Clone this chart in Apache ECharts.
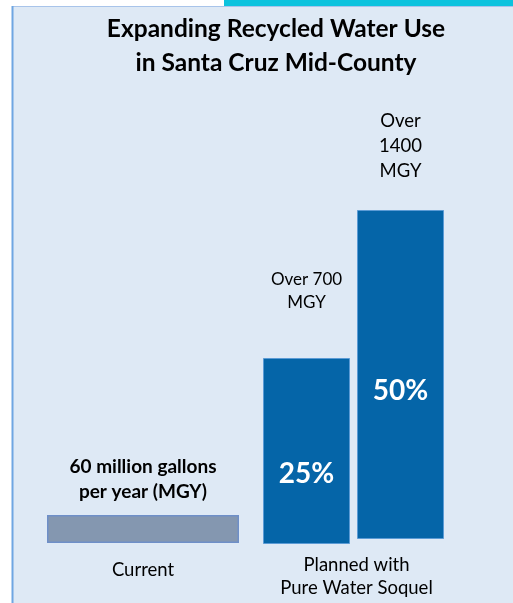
<!DOCTYPE html>
<html><head><meta charset="utf-8">
<script src="https://cdn.jsdelivr.net/npm/echarts@6/dist/echarts.min.js"></script>
<style>html,body{margin:0;padding:0;background:#fff}#c{width:513px;height:603px}</style>
</head><body><div id="c"></div>
<script>
const titleLines = ['Expanding Recycled Water Use', 'in Santa Cruz Mid-County'];
const currentCategory = ['Current'];
const plannedCategory = ['Planned with\nPure Water Soquel'];
const currentValue = [60];
const planned25Value = [700];
const planned50Value = [1400];
const currentLabel = '60 million gallons\nper year (MGY)';
const planned25Label = 'Over 700\nMGY';
const planned50Label = 'Over\n1400\nMGY';
const planned25Share = '25%';
const planned50Share = '50%';

const FONT = 'Lato, "Open Sans", sans-serif';
const chart = echarts.init(document.getElementById('c'), null, {renderer: 'canvas'});

function grid(left, width, top, bottom) { return {left, width, top, bottom, containLabel: false}; }
function xa(gi, data, show, margin) {
  return {type: 'category', gridIndex: gi, data, axisLine: {show: false}, axisTick: {show: false},
    axisLabel: {show, color: '#000', fontFamily: FONT, fontSize: 18.5, margin, lineHeight: 23}};
}
function ya(gi, max) {
  return {type: 'value', gridIndex: gi, min: 0, max, show: false, splitLine: {show: false}};
}

chart.setOption({
  backgroundColor: '#ffffff',
  animation: false,
  graphic: [
    {type: 'rect', shape: {x: 12, y: 6, width: 501, height: 597}, style: {fill: '#dee9f5'}, z: -10},
    {type: 'rect', shape: {x: 224, y: 0, width: 289, height: 6}, style: {fill: '#0cc3de'}, z: -9},
    {type: 'line', shape: {x1: 12, y1: 6.5, x2: 513, y2: 6.5}, style: {stroke: '#a8c4ea', lineWidth: 1}, z: -8},
    {type: 'line', shape: {x1: 12.5, y1: 6, x2: 12.5, y2: 603}, style: {stroke: '#6fa6e2', lineWidth: 2}, z: -8}
  ],
  title: {
    text: titleLines.join('\n'), left: 271, top: 7, textAlign: 'center',
    textStyle: {fontFamily: FONT, fontWeight: 'bold', fontSize: 24.5, lineHeight: 34, color: '#000'}
  },
  grid: [grid(47, 192, 515, 60), grid(263, 87, 358, 59), grid(357, 87, 210, 64), grid(266, 181, 358, 59)],
  xAxis: [xa(0, currentCategory, true, 16), xa(1, plannedCategory, false, 0), xa(2, plannedCategory, false, 0), xa(3, plannedCategory, true, 10)],
  yAxis: [ya(0, 60), ya(1, 700), ya(2, 1400), ya(3, 1400)],
  series: [
    {type: 'bar', xAxisIndex: 0, yAxisIndex: 0, data: currentValue, barWidth: '100%',
      itemStyle: {color: '#8497b0', borderColor: '#6e8fc8', borderWidth: 1.5},
      label: {show: true, position: 'top', distance: 11, formatter: currentLabel, color: '#000',
        fontFamily: FONT, fontWeight: 'bold', fontSize: 19, lineHeight: 25}},
    {type: 'bar', xAxisIndex: 1, yAxisIndex: 1, data: planned25Value, barWidth: '100%',
      itemStyle: {color: '#0565a8', borderColor: '#5b9bd5', borderWidth: 1},
      label: {show: true, position: 'top', distance: 44, formatter: planned25Label, color: '#000',
        fontFamily: FONT, fontSize: 17, lineHeight: 23}},
    {type: 'bar', xAxisIndex: 1, yAxisIndex: 1, data: planned25Value, barWidth: '100%', barGap: '-100%',
      itemStyle: {color: 'transparent'},
      label: {show: true, position: 'inside', offset: [0, 23], formatter: planned25Share, color: '#fff',
        fontFamily: FONT, fontWeight: 'bold', fontSize: 28}},
    {type: 'bar', xAxisIndex: 2, yAxisIndex: 2, data: planned50Value, barWidth: '100%',
      itemStyle: {color: '#0565a8', borderColor: '#5b9bd5', borderWidth: 1},
      label: {show: true, position: 'top', distance: 26, formatter: planned50Label, color: '#000',
        fontFamily: FONT, fontSize: 18.5, lineHeight: 25}},
    {type: 'bar', xAxisIndex: 2, yAxisIndex: 2, data: planned50Value, barWidth: '100%', barGap: '-100%',
      itemStyle: {color: 'transparent'},
      label: {show: true, position: 'inside', offset: [0, 16], formatter: planned50Share, color: '#fff',
        fontFamily: FONT, fontWeight: 'bold', fontSize: 28}}
  ]
});
</script></body></html>
